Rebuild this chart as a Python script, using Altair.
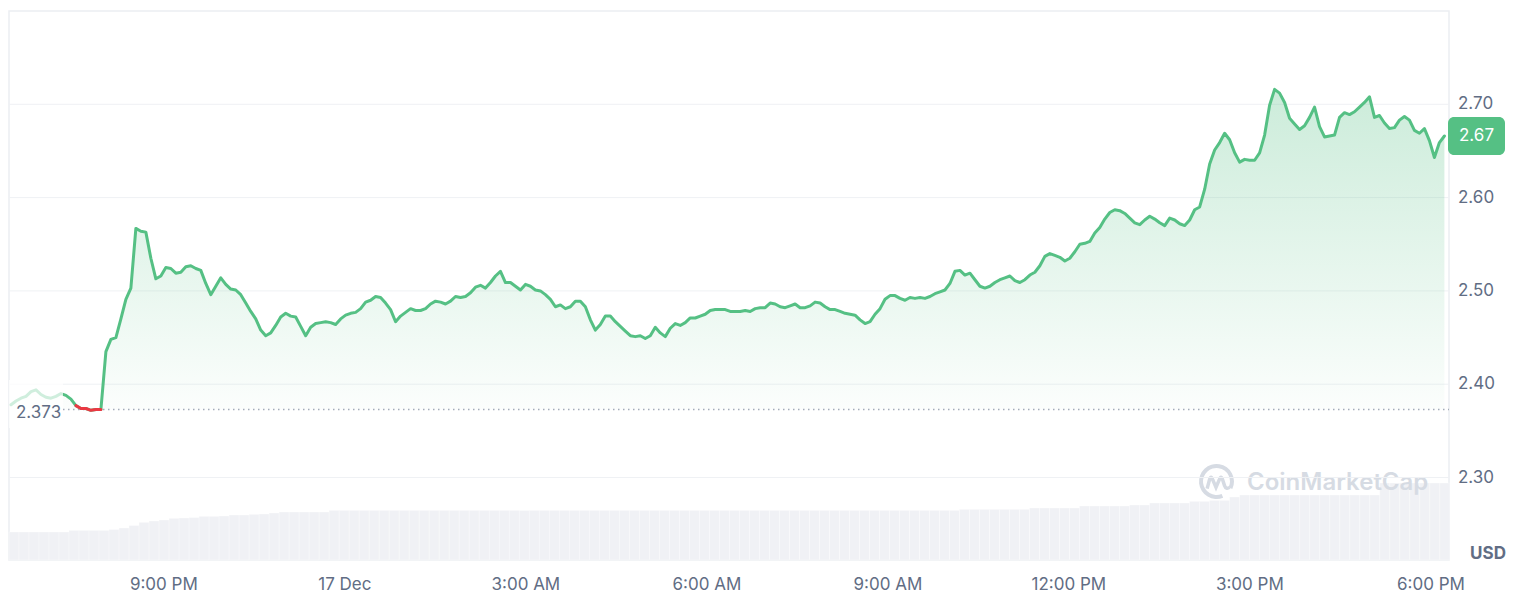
import altair as alt
import pandas as pd

# ---------------- data ----------------
PRICE_START = "2024-12-16 18:28:00"
PRICE_STEP_S = 298
PRICE = [
    2.378, 2.382, 2.385, 2.387, 2.392, 2.394, 2.389, 2.386, 2.385, 2.387,
    2.390, 2.388, 2.384, 2.377, 2.374, 2.374, 2.372, 2.373, 2.373, 2.435,
    2.448, 2.450, 2.470, 2.491, 2.503, 2.567, 2.564, 2.563, 2.535, 2.513,
    2.516, 2.525, 2.524, 2.519, 2.520, 2.526, 2.527, 2.524, 2.522, 2.508,
    2.496, 2.505, 2.514, 2.507, 2.502, 2.501, 2.496, 2.487, 2.478, 2.470,
    2.458, 2.452, 2.455, 2.463, 2.472, 2.476, 2.473, 2.472, 2.462, 2.452,
    2.461, 2.465, 2.466, 2.467, 2.466, 2.464, 2.470, 2.474, 2.476, 2.477,
    2.481, 2.488, 2.490, 2.494, 2.493, 2.487, 2.480, 2.467, 2.473, 2.477,
    2.481, 2.479, 2.479, 2.481, 2.486, 2.489, 2.488, 2.486, 2.489, 2.494,
    2.493, 2.494, 2.498, 2.504, 2.506, 2.503, 2.509, 2.516, 2.521, 2.509,
    2.509, 2.505, 2.501, 2.507, 2.505, 2.501, 2.500, 2.496, 2.491, 2.483,
    2.485, 2.481, 2.483, 2.489, 2.489, 2.483, 2.469, 2.458, 2.464, 2.473,
    2.473, 2.467, 2.462, 2.457, 2.452, 2.451, 2.452, 2.449, 2.452, 2.461,
    2.455, 2.451, 2.460, 2.465, 2.463, 2.466, 2.471, 2.471, 2.473, 2.475,
    2.479, 2.480, 2.480, 2.480, 2.478, 2.478, 2.478, 2.479, 2.478, 2.481,
    2.482, 2.482, 2.487, 2.486, 2.483, 2.482, 2.484, 2.486, 2.482, 2.482,
    2.484, 2.488, 2.487, 2.483, 2.480, 2.480, 2.478, 2.476, 2.475, 2.474,
    2.469, 2.465, 2.467, 2.475, 2.481, 2.491, 2.495, 2.495, 2.492, 2.490,
    2.493, 2.492, 2.493, 2.492, 2.494, 2.497, 2.499, 2.501, 2.508, 2.521,
    2.522, 2.517, 2.519, 2.512, 2.505, 2.503, 2.505, 2.509, 2.512, 2.514,
    2.516, 2.511, 2.509, 2.512, 2.517, 2.520, 2.527, 2.537, 2.540, 2.538,
    2.536, 2.532, 2.535, 2.542, 2.550, 2.551, 2.553, 2.562, 2.568, 2.577,
    2.584, 2.587, 2.586, 2.583, 2.578, 2.573, 2.571, 2.576, 2.580, 2.577,
    2.573, 2.570, 2.578, 2.576, 2.572, 2.570, 2.576, 2.587, 2.590, 2.609,
    2.636, 2.651, 2.659, 2.669, 2.662, 2.648, 2.638, 2.641, 2.640, 2.640,
    2.648, 2.667, 2.699, 2.716, 2.712, 2.702, 2.685, 2.679, 2.673, 2.677,
    2.686, 2.697, 2.676, 2.665, 2.666, 2.667, 2.686, 2.691, 2.689, 2.692,
    2.697, 2.702, 2.708, 2.686, 2.688, 2.680, 2.674, 2.675, 2.683, 2.687,
    2.683, 2.672, 2.669, 2.674, 2.661, 2.643, 2.659, 2.666,
]
RED_FROM, RED_TO = 14, 19          # points below the opening price

VOL_START = "2024-12-16 18:26:00"
VOL_STEP_S = 597
VOLUME = [
    140, 140, 140, 140, 140, 140, 148, 148, 148, 148,
    152, 160, 172, 188, 195, 200, 208, 210, 212, 218,
    218, 220, 225, 225, 228, 230, 235, 240, 240, 240,
    240, 240, 248, 248, 248, 248, 248, 248, 248, 248,
    248, 248, 248, 248, 248, 248, 248, 248, 248, 248,
    248, 248, 248, 248, 248, 248, 248, 248, 248, 248,
    248, 248, 248, 248, 248, 248, 248, 248, 248, 248,
    248, 248, 248, 248, 248, 248, 248, 248, 248, 248,
    248, 248, 248, 248, 248, 248, 248, 248, 248, 248,
    248, 248, 248, 248, 248, 253, 253, 253, 253, 253,
    253, 253, 260, 260, 260, 260, 260, 270, 270, 270,
    270, 270, 275, 275, 285, 285, 285, 285, 293, 293,
    298, 298, 315, 325, 325, 325, 325, 325, 325, 325,
    325, 325, 325, 325, 325, 325, 325, 385, 385, 385,
    385, 385, 385, 385,
]

BASELINE = 2.373
Y_DOMAIN = [2.2116, 2.80]
Y_TICKS = [2.30, 2.40, 2.50, 2.60, 2.70]
Y_TICK_LABELS = ["2.30", "2.40", "2.50", "2.60", "2.70"]
X_DOMAIN = ["2024-12-16 18:26:00", "2024-12-17 18:18:00"]
X_TICKS = ["2024-12-16 21:00", "2024-12-17 00:00", "2024-12-17 03:00",
           "2024-12-17 06:00", "2024-12-17 09:00", "2024-12-17 12:00",
           "2024-12-17 15:00", "2024-12-17 18:00"]
X_TICK_LABELS = ["9:00 PM", "17 Dec", "3:00 AM", "6:00 AM", "9:00 AM",
                 "12:00 PM", "3:00 PM", "6:00 PM"]
VOL_DOMAIN = [0, 2745]

GREEN = "#55c084"
RED = "#ea3943"
GREY = "#616d84"
WM = "#d6dbe3"
VOLC = "#f0f1f5"
FONT = "Inter"

W, H = 1440, 549


def dt(s):
    ts = pd.Timestamp(s)
    return alt.DateTime(year=ts.year, month=ts.month, date=ts.day,
                        hours=ts.hour, minutes=ts.minute, seconds=ts.second)


t = pd.date_range(PRICE_START, periods=len(PRICE), freq=f"{PRICE_STEP_S}s")
df = pd.DataFrame({"time": t, "price": PRICE, "i": range(1, len(PRICE) + 1)})
red_df = df[(df["i"] >= RED_FROM) & (df["i"] <= RED_TO)]
last_df = df.tail(1)

vt = pd.date_range(VOL_START, periods=len(VOLUME), freq=f"{VOL_STEP_S}s")
vdf = pd.DataFrame({"t0": vt, "t1": vt + pd.Timedelta(seconds=VOL_STEP_S), "vol": VOLUME})

ydf = pd.DataFrame({"v": Y_TICKS, "label": Y_TICK_LABELS})
xdf = pd.DataFrame({"t": pd.to_datetime(X_TICKS), "label": X_TICK_LABELS})
one = pd.DataFrame({"a": [0]})

xscale = alt.Scale(domain=[dt(X_DOMAIN[0]), dt(X_DOMAIN[1])])
yscale = alt.Scale(domain=Y_DOMAIN, nice=False, zero=False)
vscale = alt.Scale(domain=VOL_DOMAIN, nice=False, zero=True)


def X(field):
    return alt.X(field, scale=xscale, axis=None)


def Y(field):
    return alt.Y(field, scale=yscale, axis=None)


# ---------------- volume ----------------
vol = alt.Chart(vdf).mark_rect(color=VOLC, stroke="white", strokeWidth=0.6,
                               strokeOpacity=0.5).encode(
    x=X("t0:T"),
    x2="t1:T",
    y=alt.Y("vol:Q", scale=vscale, axis=None, stack=None),
    y2=alt.datum(0),
)

# ---------------- watermark ----------------
wm_ring = alt.Chart(one).mark_arc(radius=17.5, radius2=13.5, theta=2.75, theta2=8.3, color=WM).encode(
    x=alt.value(1207.5), y=alt.value(470.5))
wm_wave = alt.Chart(one).mark_point(
    shape="M -0.75 0.6 L -0.55 -0.15 Q -0.42 -0.55 -0.28 -0.15 L 0 0.5 L 0.28 -0.15 Q 0.42 -0.55 0.56 -0.15 L 0.72 0.35 Q 0.85 0.7 1.15 0.5",
    size=560, filled=False, strokeWidth=3.5, color=WM, opacity=1,
).encode(x=alt.value(1207), y=alt.value(470.5))
wm_text = alt.Chart(one).mark_text(
    text="CoinMarketCap", font=FONT, fontSize=24, fontWeight=600, color=WM,
    align="left", baseline="middle",
).encode(x=alt.value(1238), y=alt.value(472))

usd = alt.Chart(one).mark_text(
    text="USD", font=FONT, fontSize=17, fontWeight="bold", color=GREY,
    align="center", baseline="middle",
).encode(x=alt.value(1479), y=alt.value(543))

# ---------------- axes drawn from tick arrays ----------------
grid = alt.Chart(ydf).mark_rule(color="#eff1f4", strokeWidth=1).encode(
    y=Y("v:Q"), x=alt.value(0), x2=alt.value(W))
ylab = alt.Chart(ydf).mark_text(
    font=FONT, fontSize=17, color=GREY, align="left", baseline="middle",
).encode(y=Y("v:Q"), x=alt.value(W + 9), text="label:N")
xlab = alt.Chart(xdf).mark_text(
    font=FONT, fontSize=17, color=GREY, align="center", baseline="middle",
).encode(x=X("t:T"), y=alt.value(574), text="label:N")

# ---------------- price ----------------
grad = alt.Gradient(
    gradient="linear",
    stops=[alt.GradientStop(color="rgba(85,192,132,0.30)", offset=0),
           alt.GradientStop(color="rgba(85,192,132,0.02)", offset=1)],
    x1=1, x2=1, y1=0, y2=1,
)
area = alt.Chart(df).mark_area(color=grad).encode(
    x=X("time:T"), y=Y("price:Q"), y2=alt.datum(BASELINE))
base_rule = alt.Chart(pd.DataFrame({"v": [BASELINE]})).mark_rule(
    color="#a3acb9", strokeDash=[1.5, 3.5], strokeWidth=1.5).encode(
    y=Y("v:Q"), x=alt.value(54), x2=alt.value(W))
line = alt.Chart(df).mark_line(color=GREEN, strokeWidth=3, strokeJoin="round", strokeCap="round").encode(
    x=X("time:T"), y=Y("price:Q"))
red_line = alt.Chart(red_df).mark_line(color=RED, strokeWidth=3, strokeJoin="round", strokeCap="round").encode(
    x=X("time:T"), y=Y("price:Q"))
fade = alt.Chart(one).mark_rect(color="white", opacity=0.72).encode(
    x=alt.value(0), x2=alt.value(54), y=alt.value(369), y2=alt.value(417))
base_label = alt.Chart(pd.DataFrame({"v": [BASELINE]})).mark_text(
    font=FONT, fontSize=17, color=GREY, align="left", baseline="middle", dy=4,
).encode(x=alt.value(7), y=Y("v:Q"), text=alt.Text("v:Q", format=".3f"))
badge = alt.Chart(last_df).mark_rect(height=38, cornerRadius=6, color=GREEN).encode(
    x=alt.value(W - 1), x2=alt.value(W + 56), y=Y("price:Q"))
badge_text = alt.Chart(last_df).mark_text(
    font=FONT, fontSize=17, color="white", align="center", baseline="middle",
).encode(x=alt.value(W + 27.5), y=Y("price:Q"), text=alt.Text("price:Q", format=".2f"))

price_layer = alt.layer(grid, ylab, xlab, area, base_rule, line, red_line, fade,
                        base_label, badge, badge_text)

chart = alt.layer(vol, wm_ring, wm_wave, wm_text, usd, price_layer).resolve_scale(
    y="independent"
).properties(
    width=W, height=H,
    padding={"left": 0, "top": 3, "right": 0, "bottom": 6},
    background="white",
).configure_view(stroke="#eceef2", strokeWidth=1.5)

chart.save("out.html", embed_options={"renderer": "svg", "actions": False})
